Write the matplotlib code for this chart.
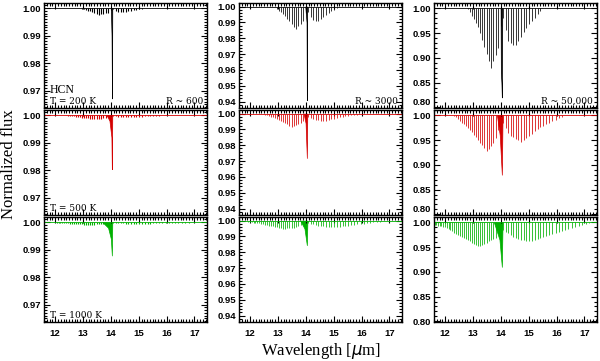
import numpy as np
import matplotlib
matplotlib.use("Agg")
import matplotlib.pyplot as plt
from matplotlib.ticker import MultipleLocator, FormatStrFormatter

# rows: temperature, columns: resolving power
temps = [200, 500, 1000]
colors = ["black", "#d40000", "#00b000"]
res_labels = ["R ~ 600", "R ~ 3000", "R ~ 50,000"]

# HCN nu2 band: Q branch centre and spacing of the plotted R/P lines
band_center = 14.03   # micron
line_step = 4.4       # cm-1
n_R, n_P = 42, 55

# R branch envelope (wavelength [um], depth 1-flux), [row][col]
R_wl = [
    [[12.9, 13.2, 13.6, 13.9, 14.0], [12.85, 13.2, 13.65, 13.9, 14.0], [12.8, 13.2, 13.65, 13.9, 14.0]],
    [[12.35, 12.8, 13.45, 13.85, 14.0], [12.4, 12.9, 13.5, 13.85, 14.0], [12.3, 12.9, 13.5, 13.8, 13.95]],
    [[11.9, 12.5, 13.2, 13.7, 13.9], [11.7, 12.4, 13.2, 13.7, 13.95], [11.6, 12.0, 12.6, 13.2, 13.7, 13.9]],
]
R_depth = [
    [[0, 0.0010, 0.0024, 0.0016, 0.0005], [0, 0.005, 0.0143, 0.009, 0.003], [0, 0.04, 0.121, 0.08, 0.03]],
    [[0, 0.0006, 0.0016, 0.0010, 0.0004], [0, 0.003, 0.0083, 0.006, 0.002], [0, 0.03, 0.073, 0.05, 0.02]],
    [[0, 0.0005, 0.0010, 0.0007, 0.0003], [0, 0.002, 0.0053, 0.004, 0.0015], [0.005, 0.01, 0.03, 0.049, 0.035, 0.03]],
]
# P branch envelope
P_wl = [
    [[14.08, 14.2, 14.45, 14.8, 15.2], [14.08, 14.2, 14.42, 14.8, 15.2], [14.08, 14.25, 14.5, 14.9, 15.5]],
    [[14.08, 14.3, 14.7, 15.3, 15.9], [14.08, 14.3, 14.65, 15.3, 16.1], [14.08, 14.3, 14.72, 15.4, 16.3]],
    [[14.08, 14.5, 15.0, 16.0, 17.2], [14.08, 14.5, 15.1, 16.0, 17.0], [14.08, 14.5, 15.05, 16.0, 17.2]],
]
P_depth = [
    [[0.0004, 0.0012, 0.0015, 0.0008, 0], [0.003, 0.008, 0.0095, 0.004, 0], [0.02, 0.065, 0.078, 0.04, 0]],
    [[0.0003, 0.0007, 0.0008, 0.0004, 0], [0.002, 0.004, 0.0047, 0.002, 0], [0.015, 0.04, 0.053, 0.025, 0]],
    [[0.0002, 0.0005, 0.0006, 0.0003, 0], [0.0015, 0.0035, 0.0042, 0.002, 0], [0.015, 0.032, 0.039, 0.02, 0]],
]
# Q branch outline
Q_wl = [
    [[14.0, 14.025, 14.04, 14.05], [13.98, 14.025, 14.035, 14.045], [13.99, 14.0, 14.02, 14.035, 14.05]],
    [[13.85, 13.95, 14.02, 14.035, 14.05], [13.92, 13.99, 14.035, 14.05], [13.86, 13.96, 14.035, 14.06]],
    [[13.7, 13.9, 14.0, 14.035, 14.05], [13.8, 13.95, 14.035, 14.055], [13.75, 13.95, 14.035, 14.06]],
]
Q_depth = [
    [[0, 0.01, 0.0328, 0], [0, 0.01, 0.059, 0], [0, 0.13, 0.15, 0.18, 0]],
    [[0, 0.002, 0.008, 0.0196, 0], [0, 0.006, 0.028, 0], [0, 0.04, 0.12, 0]],
    [[0, 0.002, 0.006, 0.0121, 0], [0, 0.005, 0.0155, 0], [0, 0.035, 0.09, 0]],
]

ylims = [(0.9637, 1.0019), (0.936, 1.0023), (0.7986, 1.0107)]
ymajor = [0.01, 0.01, 0.05]
yminor = [0.001, 0.002, 0.01]

col_left = [44 / 600, 239 / 600, 434 / 600]
col_w = 163 / 600
row_bottom = [1 - 108 / 361, 1 - 215 / 361, 1 - 322 / 361]
row_h = 105 / 361

tickfont = {"family": "Liberation Sans", "weight": "bold", "size": 6.8}
serif = "Liberation Serif"
label_font = "DejaVu Serif"

nu0 = 1e4 / band_center
lam_R = 1e4 / (nu0 + line_step * (np.arange(n_R) + 0.5))
lam_P = 1e4 / (nu0 - line_step * (np.arange(n_P) + 0.6))

fig = plt.figure(figsize=(6.0, 3.61), dpi=100)

for i in range(3):
    for j in range(3):
        ax = fig.add_axes([col_left[j], row_bottom[i], col_w, row_h])
        c = colors[i]
        ax.plot([11.5, 17.6], [1, 1], color=c, lw=0.6)
        dR = np.interp(lam_R, R_wl[i][j], R_depth[i][j], left=0, right=0)
        dP = np.interp(lam_P, P_wl[i][j], P_depth[i][j], left=0, right=0)
        lw = 0.55 if j > 0 else 0.8
        ax.vlines(lam_R, 1 - dR, 1, color=c, lw=lw)
        ax.vlines(lam_P, 1 - dP, 1, color=c, lw=lw)
        ax.fill_between(Q_wl[i][j], 1 - np.array(Q_depth[i][j]), 1,
                        color=c, lw=0.5)

        ax.set_xlim(11.6, 17.45)
        ax.set_ylim(*ylims[j])
        ax.xaxis.set_major_locator(MultipleLocator(1))
        ax.xaxis.set_minor_locator(MultipleLocator(0.1))
        ax.yaxis.set_major_locator(MultipleLocator(ymajor[j]))
        ax.yaxis.set_minor_locator(MultipleLocator(yminor[j]))
        ax.yaxis.set_major_formatter(FormatStrFormatter("%.2f"))
        ax.tick_params(which="both", direction="in", top=True, right=True,
                       width=0.8, pad=2)
        ax.tick_params(which="major", length=4)
        ax.tick_params(which="minor", length=2)
        for s in ax.spines.values():
            s.set_linewidth(1.0)
        for lab in ax.get_yticklabels():
            lab.set_fontproperties(tickfont)
            # bottom label of the right column sits on the axis edge
            if j == 2 and i < 2 and lab.get_text() == "0.80":
                lab.set_va("bottom")
        if i < 2:
            ax.set_xticklabels([])
        else:
            for lab in ax.get_xticklabels():
                lab.set_fontproperties(tickfont)
            ax.tick_params(axis="x", pad=5)

        if j == 0:
            ax.text(0.037, 0.04, "T = %d K" % temps[i], transform=ax.transAxes,
                    family=label_font, fontsize=6.5, ha="left", va="baseline")
            if i == 0:
                ax.text(0.037, 0.145, "HCN", transform=ax.transAxes,
                        family=serif, fontsize=8.5, ha="left", va="baseline")
        if i == 0:
            ax.text(0.975, 0.04, res_labels[j], transform=ax.transAxes,
                    family=label_font, fontsize=6.5, ha="right", va="baseline")

fig.text(0.015, 0.546, "Normalized flux", rotation=90, family=serif,
         fontsize=12, ha="center", va="center")
fig.text(0.535, 0.028, r"Wavelength [$\mu$m]", family=serif,
         fontsize=12, ha="center", va="center")

fig.savefig("out.png", dpi=100)
